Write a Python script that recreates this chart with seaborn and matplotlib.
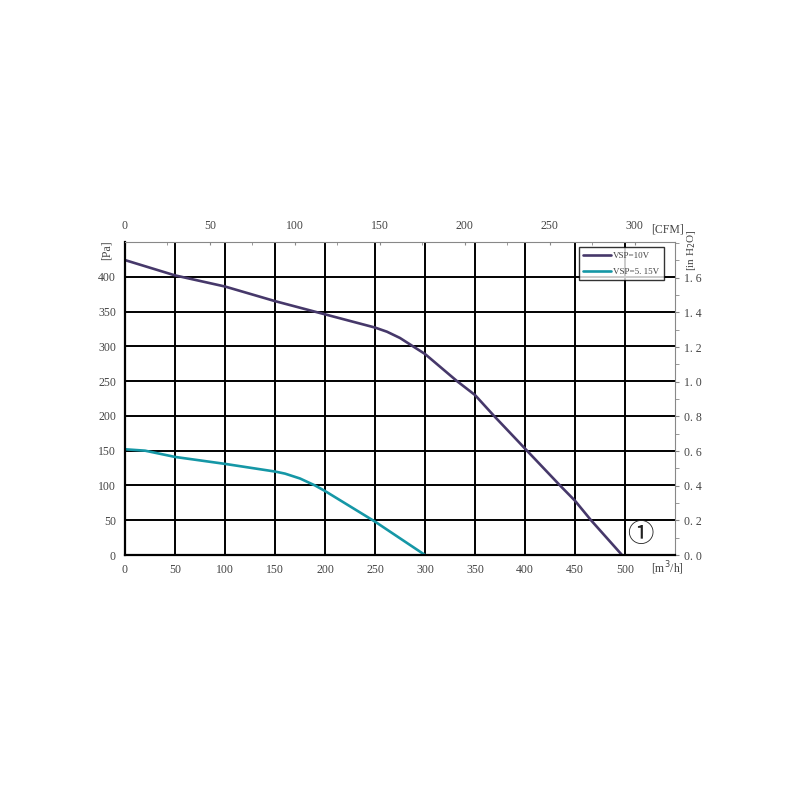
import matplotlib
matplotlib.use("Agg")
import matplotlib.pyplot as plt
import seaborn as sns
import pandas as pd
from matplotlib.ticker import MultipleLocator, FuncFormatter

# curve data (airflow m3/h, pressure Pa)
flow_10v = [0, 50, 100, 150, 200, 250, 262, 275, 288, 300, 332, 350, 369, 400, 435, 450, 466, 497]
pres_10v = [424, 402, 386, 365, 346, 327, 321, 312, 300, 289, 250, 230, 200, 153, 100, 78, 50, 0]
flow_5v = [0, 20, 50, 100, 150, 160, 175, 190, 200, 250, 300]
pres_5v = [152, 150, 141, 131, 120, 117, 110, 100, 92, 48, 0]
labels = ["VSP=10V", "VSP=5. 15V"]
colors = ["#46386a", "#1597a6"]

df = pd.concat([
    pd.DataFrame({"flow": flow_10v, "pres": pres_10v, "curve": labels[0]}),
    pd.DataFrame({"flow": flow_5v, "pres": pres_5v, "curve": labels[1]}),
])

sns.set_style("white")
plt.rcParams["font.family"] = ["Liberation Serif", "DejaVu Serif"]
tick_col = "#444444"
fs = 8.5

fig = plt.figure(figsize=(8, 8), dpi=100)
ax = fig.add_axes([0.15625, 0.30625, 0.6875, 0.39125])

sns.lineplot(data=df, x="flow", y="pres", hue="curve", palette=colors,
             linewidth=1.9, sort=False, estimator=None, ax=ax)

ax.set_xlim(0, 550)
ax.set_ylim(0, 450)
ax.set_xlabel("")
ax.set_ylabel("")

for x in range(50, 501, 50):
    ax.axvline(x, color="black", lw=1.4, zorder=1)
for y in range(50, 401, 50):
    ax.axhline(y, color="black", lw=1.4, zorder=1)

ax.set_xticks(range(0, 501, 50))
ax.set_yticks(range(0, 401, 50))
ax.tick_params(axis="both", direction="out", length=3, width=1, colors="black",
               labelcolor=tick_col, labelsize=fs)

for s in ["left", "bottom"]:
    ax.spines[s].set_color("black")
    ax.spines[s].set_linewidth(1.6)
for s in ["top", "right"]:
    ax.spines[s].set_color("#888888")
    ax.spines[s].set_linewidth(0.8)

# top CFM axis
top = ax.secondary_xaxis("top", functions=(lambda v: v / 1.699, lambda v: v * 1.699))
top.set_xticks(range(0, 301, 50))
top.xaxis.set_minor_locator(MultipleLocator(25))
top.tick_params(which="both", direction="in", length=2, colors="#888888",
                labelcolor=tick_col, labelsize=fs, pad=7)
top.spines["top"].set_visible(False)

# right inH2O axis
right = ax.secondary_yaxis("right", functions=(lambda v: v / 249.09, lambda v: v * 249.09))
right.set_yticks([0, 0.2, 0.4, 0.6, 0.8, 1.0, 1.2, 1.4, 1.6])
right.yaxis.set_minor_locator(MultipleLocator(0.1))
right.yaxis.set_major_formatter(FuncFormatter(lambda v, p: f"{v:.1f}".replace(".", ". ")))
right.tick_params(which="both", direction="out", length=3, colors="#888888",
                  labelcolor=tick_col, labelsize=fs)
right.spines["right"].set_visible(False)

ax.text(-18, 452, "[Pa]", rotation=90, ha="center", va="top", fontsize=fs, color=tick_col)
ax.text(566, 468, "[in H$_2$O]", rotation=90, ha="center", va="top", fontsize=fs - 0.5,
        color=tick_col)
ax.text(542, 460, "[CFM]", ha="center", va="bottom", fontsize=fs, color=tick_col)
ax.text(542, -7, "[m$^3$/h]", ha="center", va="top", fontsize=fs, color=tick_col)
ax.text(515, 29, "\u2460", ha="center", va="center", fontsize=19,
        family=["Noto Sans CJK SC", "DejaVu Sans"], color="#222222")

leg = ax.legend(loc="upper right", bbox_to_anchor=(0.988, 0.997), frameon=True,
                fancybox=False, edgecolor="black", fontsize=6.5, handlelength=3.0,
                handletextpad=0.3, borderpad=0.5, labelspacing=0.8, title=None)
leg.get_frame().set_linewidth(1.0)
for t in leg.get_texts():
    t.set_color(tick_col)

fig.savefig("out.png", dpi=100)
